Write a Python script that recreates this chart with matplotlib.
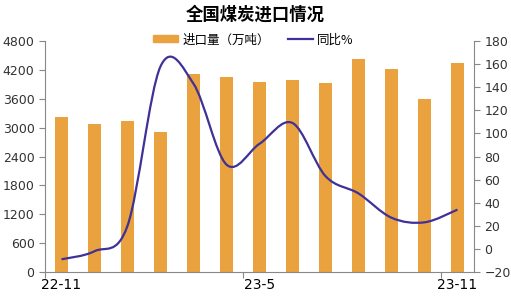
import matplotlib
matplotlib.use("Agg")
import matplotlib.pyplot as plt
import numpy as np
from matplotlib.path import Path
from matplotlib.patches import PathPatch, Patch
from matplotlib.lines import Line2D

# data
months = ["22-11", "22-12", "23-1", "23-2", "23-3", "23-4", "23-5",
          "23-6", "23-7", "23-8", "23-9", "23-10", "23-11"]
imports = [3215, 3069, 3138, 2909, 4114, 4045, 3948, 3990, 3927, 4419, 4218, 3595, 4343]
yoy = [-9, -2, 20, 158, 143, 73, 91, 109, 63, 48, 27, 23, 34]
tick_labels = ["22-11", "23-5", "23-11"]

bar_color = "#E9A23E"
line_color = "#3E3198"
cjk = ["Noto Sans CJK SC", "DejaVu Sans"]

fig = plt.figure(figsize=(5.11, 3.02), dpi=100)
ax = fig.add_axes([45 / 511, 30 / 302, 429 / 511, 231 / 302])
ax2 = ax.twinx()

x = np.arange(len(months))
ax.bar(x, imports, width=0.4, color=bar_color, zorder=2)
ax.set_xlim(-0.5, len(months) - 0.5)
ax.set_ylim(0, 4800)
ax.set_yticks(np.arange(0, 4801, 600))

# smoothed line (excel-like bezier through the points)
pts = np.column_stack([x, yoy]).astype(float)
verts = [pts[0]]
codes = [Path.MOVETO]
for i in range(len(pts) - 1):
    p0 = pts[i - 1] if i > 0 else pts[i]
    p1, p2 = pts[i], pts[i + 1]
    p3 = pts[i + 2] if i + 2 < len(pts) else pts[i + 1]
    verts += [p1 + (p2 - p0) / 6, p2 - (p3 - p1) / 6, p2]
    codes += [Path.CURVE4] * 3
ax2.add_patch(PathPatch(Path(verts, codes), facecolor="none",
                        edgecolor=line_color, lw=1.6, zorder=3))
ax2.set_ylim(-20, 180)
ax2.set_yticks(np.arange(-20, 181, 20))

# x ticks: marks on boundaries, labels under bars
ax.set_xticks([-0.5, 5.5, 11.5])
ax.set_xticklabels([])
ax.set_xticks([0, 6, 12], tick_labels, minor=True)
ax.tick_params(axis="x", which="minor", length=0, pad=4)
ax.tick_params(axis="x", which="major", length=4, color="#888888")

for a in (ax, ax2):
    for s in a.spines.values():
        s.set_color("#888888")
        s.set_linewidth(0.8)
    a.spines["top"].set_visible(False)
    a.tick_params(labelsize=9, labelcolor="#333333", color="#888888", length=4)
ax.spines["right"].set_visible(False)
ax2.spines["left"].set_visible(False)
ax2.spines["bottom"].set_visible(False)

fig.text(0.5, 0.952, "全国煤炭进口情况", ha="center", va="center",
         fontsize=12.5, fontweight="bold", family=cjk)

handles = [Patch(color=bar_color), Line2D([], [], color=line_color, lw=1.6)]
fig.legend(handles, ["进口量（万吨）", "同比%"], loc="center",
           bbox_to_anchor=(0.496, 0.868), ncol=2, frameon=False,
           prop={"family": cjk, "size": 9}, handlelength=2.0,
           handleheight=0.5, handletextpad=0.3, columnspacing=1.5)

fig.savefig("out.png", dpi=100)
